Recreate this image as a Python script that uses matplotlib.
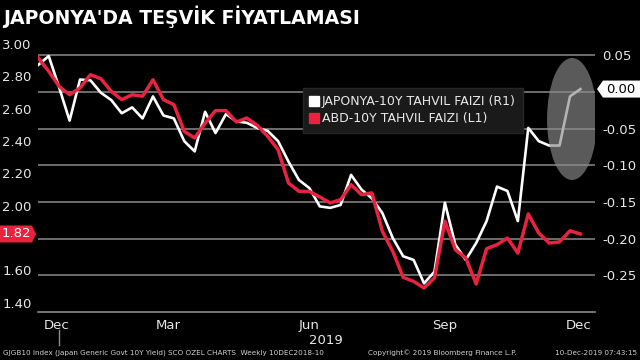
import numpy as np
import matplotlib
matplotlib.use('Agg')
import matplotlib.pyplot as plt
from matplotlib.patches import Ellipse, Polygon
from matplotlib.lines import Line2D
from matplotlib.transforms import blended_transform_factory

# weekly readings, Dec 2018 -> Dec 2019
jgb10y = [0.037, 0.049, 0.006, -0.039, 0.017, 0.016, -0.001, -0.011, -0.029, -0.021,
          -0.036, -0.006, -0.032, -0.036, -0.067, -0.081, -0.027, -0.056, -0.030, -0.040,
          -0.042, -0.049, -0.053, -0.067, -0.095, -0.120, -0.131, -0.156, -0.158, -0.154,
          -0.113, -0.133, -0.145, -0.165, -0.199, -0.224, -0.229, -0.261, -0.245, -0.151,
          -0.208, -0.229, -0.206, -0.176, -0.129, -0.135, -0.176, -0.049, -0.067, -0.073,
          -0.073, -0.006, 0.004]
us10y = [2.913, 2.831, 2.738, 2.686, 2.728, 2.810, 2.785, 2.707, 2.656, 2.686,
         2.677, 2.779, 2.656, 2.625, 2.460, 2.419, 2.511, 2.588, 2.588, 2.518,
         2.542, 2.497, 2.429, 2.346, 2.140, 2.089, 2.088, 2.054, 2.017, 2.037,
         2.130, 2.068, 2.079, 1.842, 1.718, 1.557, 1.532, 1.491, 1.553, 1.904,
         1.728, 1.677, 1.516, 1.734, 1.759, 1.800, 1.707, 1.949, 1.831, 1.769,
         1.776, 1.845, 1.825]

month_ticks = [2, 6, 10, 15, 19, 24, 28, 32, 37, 41, 45, 50]
label_pos = [1.8, 12.5, 26, 39, 51.8]
label_txt = ['Dec', 'Mar', 'Jun', 'Sep', 'Dec']
left_ticks = [3.0, 2.8, 2.6, 2.4, 2.2, 2.0, 1.6, 1.4]
right_ticks = [0.05, 0.0, -0.05, -0.10, -0.15, -0.20, -0.25]

RED = '#e8223f'
TXT = '#e8e8e8'
x = np.arange(len(us10y))

fig = plt.figure(figsize=(6.4, 3.6), dpi=100, facecolor='black')
ax2 = fig.add_axes([38/640, 48/360, 557/640, 272/360])
ax = ax2.twinx()
ax.yaxis.tick_left()
ax2.yaxis.tick_right()
ax.set_zorder(ax2.get_zorder() + 1)
ax.patch.set_visible(False)
ax2.set_facecolor('black')

ax2.plot(x, jgb10y, color='white', lw=1.9, zorder=3)
ax.plot(x, us10y, color=RED, lw=2.5, zorder=3)

ax.set_xlim(-0.03, 53.4)
ax.set_ylim(1.3426, 3.0247)
ax2.set_ylim(-0.300, 0.0709)

ax2.set_yticks(right_ticks)
ax2.set_yticklabels(['' if abs(t) < 1e-9 else '%.2f' % t for t in right_ticks])
ax2.grid(axis='y', color='#808080', lw=1.2)
ax.set_yticks(left_ticks)
ax.set_yticklabels(['%.2f' % t for t in left_ticks])

for a in (ax, ax2):
    for s in a.spines.values():
        s.set_visible(False)
ax2.spines['bottom'].set_visible(True)
ax2.spines['bottom'].set_color('#8c8c8c')
ax2.spines['bottom'].set_linewidth(1.2)

ax.tick_params(axis='y', length=0, pad=4.5, labelcolor=TXT, labelsize=9.5)
ax2.tick_params(axis='y', length=0, pad=5, labelcolor=TXT, labelsize=9.5)
ax2.set_xticks(month_ticks)
ax2.set_xticks(label_pos, minor=True)
ax2.set_xticklabels([''] * len(month_ticks))
ax2.set_xticklabels(label_txt, minor=True)
ax2.tick_params(axis='x', which='major', length=2.5, color='#8c8c8c', width=1)
ax2.tick_params(axis='x', which='minor', length=0, pad=5, labelcolor=TXT, labelsize=9.5)
ax.set_xticks([])

# year separator and year label
tr = blended_transform_factory(ax2.transData, ax2.transAxes)
ax2.plot([month_ticks[0], month_ticks[0]], [-0.066, -0.121], transform=tr,
         color='#8c8c8c', lw=1, clip_on=False)
fig.text(326/640, 1 - 340/360, '2019', color=TXT, fontsize=9.5, ha='center', va='center')

# highlight ellipse around recent JGB move
ax2.add_patch(Ellipse((51.2, -0.0368), 4.8, 0.1664, facecolor='#8b8b8b',
                      edgecolor='none', alpha=0.65, zorder=4))

# legend
handles = [Line2D([], [], marker='s', ls='', color='white', markersize=6.5),
           Line2D([], [], marker='s', ls='', color=RED, markersize=6.5)]
leg = ax.legend(handles, ['JAPONYA-10Y TAHVIL FAIZI (R1)', 'ABD-10Y TAHVIL FAIZI (L1)'],
                loc='upper left', bbox_to_anchor=(0.476, 0.824), borderaxespad=0,
                fontsize=9, labelcolor=TXT, facecolor='#1a1a1a', edgecolor='#262626',
                framealpha=1, fancybox=False, handlelength=0.6, handletextpad=0.3,
                labelspacing=0.3, borderpad=0.6)


def tag(axis, yval, side, text, face, tc):
    ylo, yhi = axis.get_ylim()
    yf = (yval - ylo) / (yhi - ylo)
    h = 8.5 / 272
    if side == 'left':
        x0, x1, tip, xc = -38/557, -6/557, -2/557, -22/557
    else:
        x0, x1, tip, xc = 1 + 45/557, 1 + 8/557, 1 + 2/557, 1 + 26/557
    pts = [(x0, yf - h), (x1, yf - h), (tip, yf), (x1, yf + h), (x0, yf + h)]
    axis.add_patch(Polygon(pts, closed=True, transform=axis.transAxes, clip_on=False,
                           facecolor=face, edgecolor='none', zorder=6))
    axis.text(xc, yf, text, transform=axis.transAxes, ha='center', va='center',
              color=tc, fontsize=9.5, zorder=7, clip_on=False)


tag(ax, us10y[-1], 'left', '%.2f' % us10y[-1], RED, 'white')
tag(ax2, jgb10y[-1], 'right', '%.2f' % jgb10y[-1], 'white', 'black')

fig.text(3/640, 1 - 17/360, "JAPONYA'DA TEŞVİK FİYATLAMASI", color='white',
         fontsize=13.6, fontweight='bold', ha='left', va='center')

fig.text(3/640, 1 - 353/360, 'GJGB10 Index (Japan Generic Govt 10Y Yield) SCO OZEL CHARTS  Weekly 10DEC2018-10',
         color='#d0d0d0', fontsize=5.2, ha='left', va='center')
fig.text(368/640, 1 - 353/360, 'Copyright\u00a9 2019 Bloomberg Finance L.P.',
         color='#d0d0d0', fontsize=5.2, ha='left', va='center')
fig.text(637/640, 1 - 353/360, '10-Dec-2019 07:43:15',
         color='#d0d0d0', fontsize=5.2, ha='right', va='center')

fig.savefig('out.png', dpi=100, facecolor='black')
